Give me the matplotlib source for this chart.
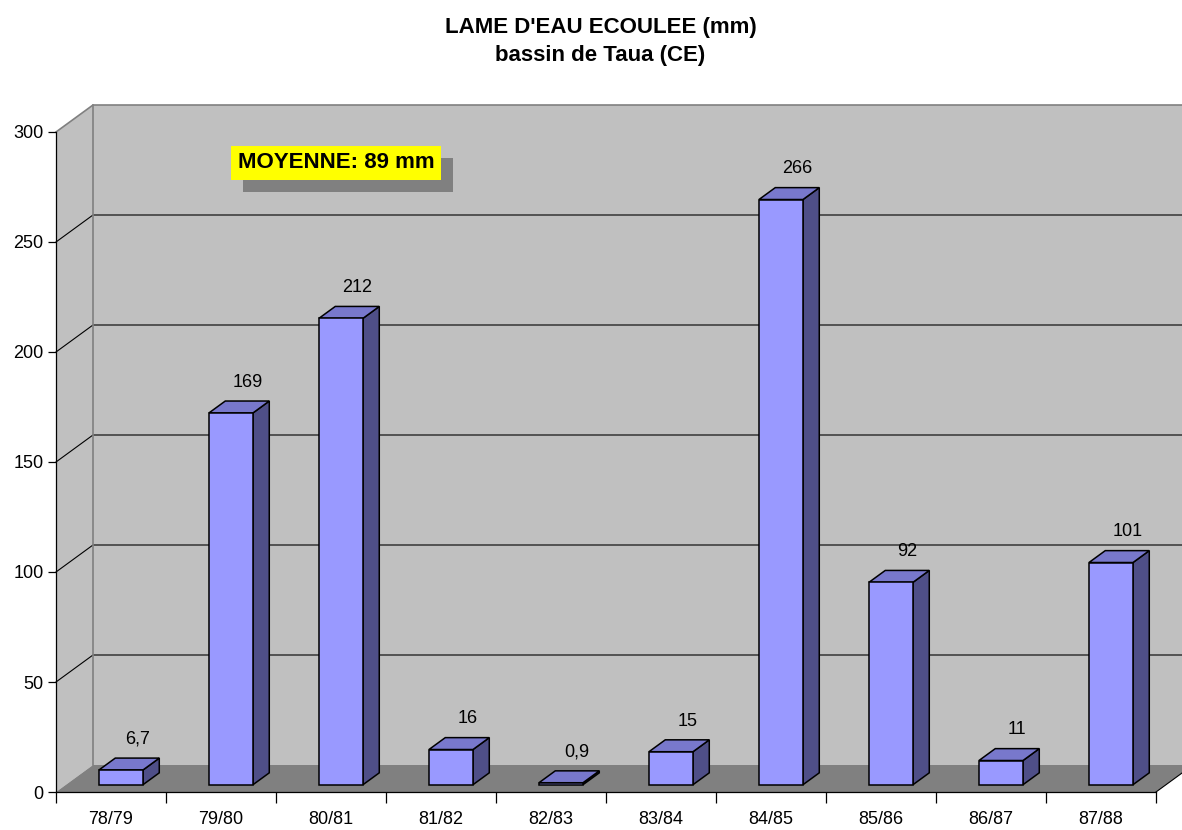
import matplotlib
matplotlib.use('Agg')
import matplotlib.pyplot as plt
from matplotlib.patches import Polygon, Rectangle
from matplotlib import transforms

plt.rcParams['font.family'] = ['Liberation Sans', 'DejaVu Sans']

# data
seasons = ['78/79', '79/80', '80/81', '81/82', '82/83',
           '83/84', '84/85', '85/86', '86/87', '87/88']
lame_eau = [6.7, 169, 212, 16, 0.9, 15, 266, 92, 11, 101]
value_labels = ['6,7', '169', '212', '16', '0,9', '15', '266', '92', '11', '101']
y_ticks = [0, 50, 100, 150, 200, 250, 300]
moyenne_text = 'MOYENNE: 89 mm'

WALL = '#C0C0C0'
FLOOR = '#808080'
EDGE = '#808080'
BAR_FRONT = '#9999FF'
BAR_TOP = '#7878CC'
BAR_SIDE = '#4F4F88'

# depth offset of the 3d box, in data units (x: categories, y: mm)
DX = 37 / 110
DY = 27 / 2.2
Y_MAX = 300
N = len(seasons)

fig = plt.figure(figsize=(11.82, 8.30), dpi=100)
ax = fig.add_axes([56 / 1182, 38 / 830, 1100 / 1182, 660 / 830])
ax.set_xlim(0, N)
ax.set_ylim(0, Y_MAX)
ax.set_facecolor('none')


def poly(pts, fc, ec='none', lw=0, z=1):
    p = Polygon(pts, closed=True, facecolor=fc, edgecolor=ec, linewidth=lw,
                clip_on=False, zorder=z, joinstyle='miter')
    ax.add_patch(p)


# walls and floor
poly([(DX, DY), (N + DX, DY), (N + DX, Y_MAX + DY), (DX, Y_MAX + DY)], WALL, z=0)
poly([(0, 0), (0, Y_MAX), (DX, Y_MAX + DY), (DX, DY)], WALL, z=0)
poly([(0, 0), (N, 0), (N + DX, DY), (DX, DY)], FLOOR, z=0.5)

# gridlines on back wall and side wall
for v in y_ticks[1:-1]:
    ax.plot([0, DX, N + DX], [v, v + DY, v + DY], color='black', lw=0.8,
            clip_on=False, zorder=0.6)
ax.plot([0, DX, N + DX], [Y_MAX, Y_MAX + DY, Y_MAX + DY], color=EDGE, lw=1.2,
        clip_on=False, zorder=0.6)
ax.plot([DX, DX], [DY, Y_MAX + DY], color=EDGE, lw=1.2, clip_on=False, zorder=0.6)
ax.plot([N, N + DX], [0, DY], color='black', lw=0.8, clip_on=False, zorder=0.6)

# bars
f0, f1 = 0.27, 0.71
w = 0.4
d = f1 - f0
for i, v in enumerate(lame_eau):
    x0 = i + 0.5 - w / 2 + f0 * DX
    y0 = f0 * DY
    ddx, ddy = d * DX, d * DY
    poly([(x0 + w, y0), (x0 + w + ddx, y0 + ddy), (x0 + w + ddx, y0 + v + ddy),
          (x0 + w, y0 + v)], BAR_SIDE, 'black', 1.1, 2)
    poly([(x0, y0 + v), (x0 + w, y0 + v), (x0 + w + ddx, y0 + v + ddy),
          (x0 + ddx, y0 + v + ddy)], BAR_TOP, 'black', 1.1, 2)
    poly([(x0, y0), (x0 + w, y0), (x0 + w, y0 + v), (x0, y0 + v)],
         BAR_FRONT, 'black', 1.1, 2)
    ax.text(x0 + w / 2 + ddx, y0 + v + ddy + 8.5, value_labels[i],
            ha='center', va='center', fontsize=13, zorder=3)

# axes
for s in ['top', 'right']:
    ax.spines[s].set_visible(False)
for s in ['left', 'bottom']:
    ax.spines[s].set_color('black')
    ax.spines[s].set_linewidth(0.9)
    ax.spines[s].set_zorder(1)
ax.set_yticks(y_ticks)
ax.tick_params(axis='y', direction='out', length=6, width=0.9, labelsize=13, pad=3)
ax.set_xticks(range(N + 1))
ax.set_xticklabels([])
ax.tick_params(axis='x', which='major', direction='out', length=8, width=0.9)
ax.set_xticks([i + 0.5 for i in range(N)], minor=True)
ax.set_xticklabels(seasons, minor=True)
ax.tick_params(axis='x', which='minor', length=0, labelsize=13, pad=14)

# mean annotation, yellow box with a gray shadow behind it
moy = ax.text(1.655, 286, moyenne_text, fontsize=16, fontweight='bold', color='black',
              va='center', ha='left', zorder=5,
              bbox=dict(boxstyle='square,pad=0.3', fc='#FFFF00', ec='none'))
fig.canvas.draw()
bb = moy.get_bbox_patch().get_window_extent()
ax.add_patch(Rectangle((bb.x0 + 12, bb.y0 - 12), bb.width, bb.height,
                       transform=transforms.IdentityTransform(), clip_on=False,
                       facecolor=FLOOR, edgecolor='none', zorder=4))

fig.text(0.508, 1 - 27 / 830, "LAME D'EAU ECOULEE (mm)", ha='center', va='center',
         fontsize=16, fontweight='bold')
fig.text(0.508, 1 - 55 / 830, 'bassin de Taua (CE)', ha='center', va='center',
         fontsize=16, fontweight='bold')

fig.savefig('out.png', dpi=100, facecolor='white')
